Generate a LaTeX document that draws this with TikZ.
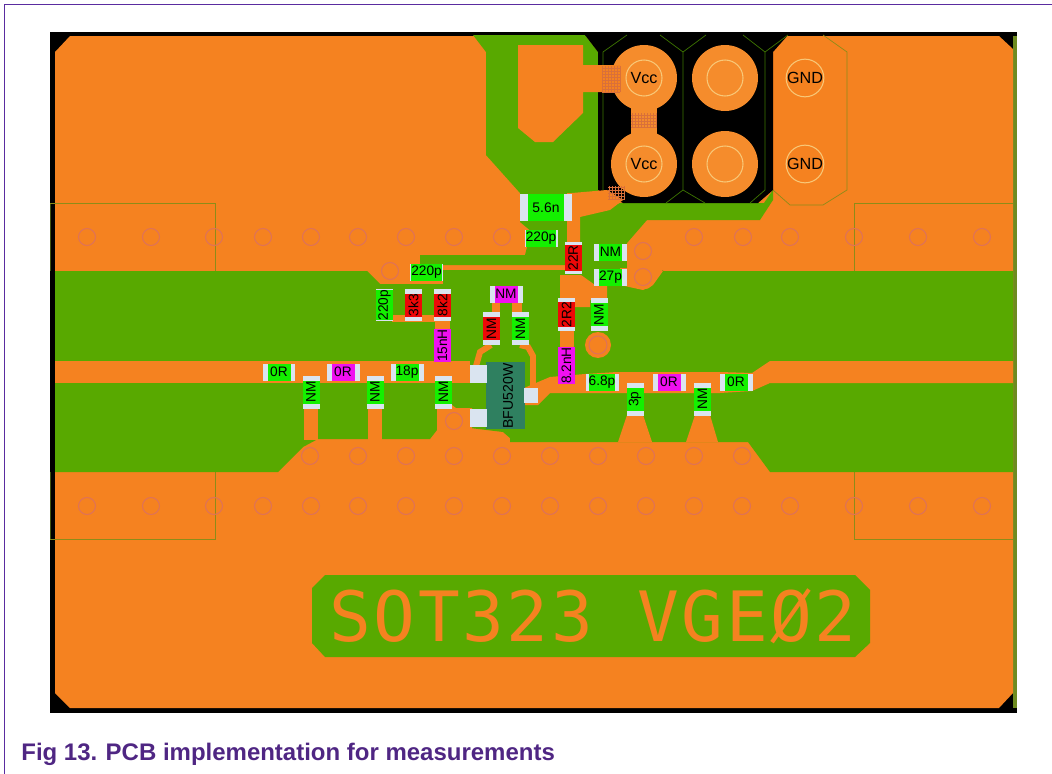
\documentclass[tikz,border=0pt]{standalone}
\usepackage{fontspec}
\setmainfont{Liberation Sans}
\newfontfamily\silkfont[LetterSpace=3.7]{DejaVu Sans Mono}
\definecolor{nxpurple}{HTML}{4F2683}
\definecolor{framepurple}{HTML}{5A2CA0}
\definecolor{pcborange}{HTML}{F58220}
\definecolor{padorange}{HTML}{F58C2C}
\definecolor{hatchorange}{HTML}{D9703A}
\definecolor{pcbgreen}{HTML}{58A900}
\definecolor{olive}{HTML}{8C8C18}
\definecolor{edgeolive}{HTML}{6E8B20}
\definecolor{viaring}{HTML}{DE7258}
\definecolor{padring}{HTML}{F8C878}
\definecolor{capblue}{HTML}{DAE4F0}
\definecolor{partgreen}{HTML}{14F000}
\definecolor{partmag}{HTML}{F010F0}
\definecolor{partred}{HTML}{EE0808}
\definecolor{bfugreen}{HTML}{2F8060}
\tikzset{
  via/.style={circle,draw=viaring,line width=0.6pt,minimum size=0.34cm,inner sep=0pt},
  bigpad/.style={circle,fill=padorange,draw=padring,minimum size=0.72cm,inner sep=0pt,line width=0.6pt,font=\fontsize{9.2}{10}\selectfont},
  padback/.style={circle,fill=padorange,minimum size=1.32cm,inner sep=0pt},
  partcap/.style={fill=capblue,inner sep=0pt,minimum width=0.66cm,minimum height=0.34cm},
  partbody/.style={inner sep=0pt,minimum width=0.46cm,minimum height=0.34cm,font=\fontsize{7.8}{8}\selectfont},
  blupad/.style={fill=capblue,inner sep=0pt,minimum width=0.34cm,minimum height=0.36cm},
}
\begin{document}
\begin{tikzpicture}[x=0.02cm,y=-0.02cm]
\useasboundingbox (0,0) rectangle (1052,774);
% page frame
\draw[framepurple,line width=0.6pt] (4.5,774) -- (4.5,4.5) -- (1052,4.5);
% board
\fill[black] (50,32) rectangle (1017,713);
\fill[edgeolive] (1013,36) rectangle (1017,708);
\fill[pcborange] (70,36) -- (999,36) -- (1013,49) -- (1013,693) -- (999,708) -- (70,708) -- (55,693) -- (55,52) -- cycle;
\draw[edgeolive!60!black,line width=0.5pt] (50,203) -- (50,271) (50,472) -- (50,539);
\draw[olive,line width=0.5pt] (50,203) -- (215,203) -- (215,271);
\draw[olive,line width=0.5pt] (50,539) -- (215,539) -- (215,472);
\draw[olive,line width=0.5pt] (1013,203) -- (854,203) -- (854,271);
\draw[olive,line width=0.5pt] (1013,539) -- (854,539) -- (854,472);
\draw[olive,line width=0.4pt] (823,35) -- (847,52) -- (847,190) -- (823,205) -- (790,205) -- (773,190);
% ground gaps
\fill[pcbgreen] (55,271) -- (367,271) -- (380,284) -- (443,284) -- (443,270) -- (663,270) -- (663,271) -- (1013,271) -- (1013,472) -- (770,472) -- (748,442) -- (510,442) -- (510,438) -- (503,432) -- (470,428) -- (437,430) -- (430,439) -- (318,439) -- (303,447) -- (278,472) -- (55,472) -- cycle;
\fill[pcbgreen] (473,35) -- (585,35) -- (598,52) -- (598,193) -- (580,217) -- (620,203) -- (764,203) -- (773,190) -- (773,200) -- (760,220) -- (647,220) -- (627,243) -- (627,272) -- (580,272) -- (520,222) -- (520,193) -- (486,155) -- (486,52) -- cycle;
\fill[pcbgreen] (520,193) rectangle (598,222);
\fill[pcbgreen] (531,222) rectangle (567,229);
\fill[pcbgreen] (420,255) -- (525,255) -- (527,247) -- (565,247) -- (565,265) -- (420,265) -- cycle;
\fill[pcbgreen] (325,575) -- (855,575) -- (870,590) -- (870,643) -- (855,657) -- (325,657) -- (312,643) -- (312,588) -- cycle;
% supply area
\fill[black] (585,35) -- (788,35) -- (773,52) -- (773,190) -- (758,203) -- (623,203) -- (598,190) -- (598,52) -- cycle;
\draw[pcbgreen!70!black,line width=0.4pt] (627,35) -- (603,52) -- (603,190) -- (612,200);
\draw[pcbgreen!70!black,line width=0.4pt] (660,35) -- (683,52) -- (706,35) (683,52) -- (683,190) -- (666,203) (683,190) -- (705,203);
\draw[pcbgreen!70!black,line width=0.4pt] (743,35) -- (765,52) -- (788,35) (765,52) -- (765,190) -- (750,203);
\node[padback] (vccA) at (644,78) {};
\node[padback] (vccB) at (644,164) {};
\node[padback] (padA) at (725,78) {};
\node[padback] (padB) at (725,164) {};
\fill[padorange] (631,105) rectangle (657,135);
\fill[pcborange] (518,45) -- (583,45) -- (583,65) -- (620,65) -- (620,92) -- (583,92) -- (583,113) -- (553,142) -- (535,142) -- (518,128) -- cycle;
\fill[pcborange] (572,193) -- (607,190) -- (623,200) -- (610,210) -- (580,217) -- (580,242) -- (567,242) -- (567,193) -- cycle;
% hatching on the necks
\foreach \hx in {602,605,...,620} \draw[hatchorange,line width=0.3pt] (\hx,66) -- (\hx,92);
\foreach \hy in {68,71,...,92} \draw[hatchorange,line width=0.3pt] (602,\hy) -- (620,\hy);
\foreach \hx in {632,635,...,656} \draw[hatchorange,line width=0.3pt] (\hx,113) -- (\hx,128);
\foreach \hy in {115,118,...,128} \draw[hatchorange,line width=0.3pt] (631,\hy) -- (657,\hy);
\foreach \hx in {609,612,...,624} \draw[hatchorange,line width=0.3pt] (\hx,186) -- (\hx,200);
\foreach \hy in {187,190,...,200} \draw[hatchorange,line width=0.3pt] (608,\hy) -- (625,\hy);
\node[bigpad] (vccAin) at (644,78) {Vcc};
\node[bigpad] (vccBin) at (644,164) {Vcc};
\node[bigpad] (padAin) at (725,78) {};
\node[bigpad] (padBin) at (725,164) {};
\node[bigpad,fill=none] (gndA) at (805,78) {GND};
\node[bigpad,fill=none] (gndB) at (805,164) {GND};
% tracks
\fill[pcborange] (55,361) rectangle (470,383);
\fill[pcborange] (585,374) -- (617,372) -- (720,372) -- (752,373) -- (770,361) -- (1013,361) -- (1013,383) -- (770,383) -- (752,391) -- (720,393) -- (550,393) -- (538,405) -- (524,405) -- (524,388) -- (550,377) -- cycle;
\fill[pcborange] (304,405) rectangle (318,440);
\fill[pcborange] (368,405) rectangle (382,440);
\fill[pcborange] (618,442) -- (627,415) -- (643,415) -- (652,442) -- cycle;
\fill[pcborange] (686,442) -- (695,415) -- (710,415) -- (718,442) -- cycle;
\fill[pcborange] (437,405) -- (452,405) -- (456,408) -- (472,408) -- (472,430) -- (437,431) -- cycle;
\fill[pcborange] (392,315) rectangle (436,322);
\fill[pcborange] (435,320) rectangle (450,330);
\fill[pcborange] (435,360) rectangle (450,365);
\fill[pcborange] (560,330) rectangle (574,350);
\fill[pcborange] (560,275) -- (581,275) -- (595,285) -- (607,285) -- (607,300) -- (590,300) -- (590,307) -- (575,307) -- (575,300) -- (560,300) -- cycle;
\fill[pcborange] (627,243) -- (663,271) -- (653,285) -- (643,290) -- (620,285) -- (620,268) -- (627,268) -- cycle;
\fill[pcborange] (492,302) rectangle (500,313);
\fill[pcborange] (512,302) rectangle (522,313);
\draw[pcborange,line width=3.4pt] (491,345) -- (480,352) -- (476,366);
\draw[pcborange,line width=3.4pt] (520,345) -- (528,347) -- (533,356) -- (533,390);
\node[circle,fill=pcborange,minimum size=0.52cm,inner sep=0pt] (viaP) at (598,345) {};
\node[via,minimum size=0.36cm] (viaQ) at (598,345) {};
\node[circle,fill=pcborange,minimum size=0.5cm,inner sep=0pt] (viaR) at (454,421) {};
\node[circle,fill=pcborange,minimum size=0.5cm,inner sep=0pt] (viaS) at (643,277) {};
% via rows
\foreach \vx in {87,151,214,263,311,358,406,454,502,694,743,790,854,918,982}
  \node[via] (vt\vx) at (\vx,237) {};
\foreach \vx in {87,151,214,263,311,358,406,454,502,550,598,646,694,742,790,854,918,982}
  \node[via] (vb\vx) at (\vx,506) {};
\foreach \vx in {310,358,406,454,502,550,598,646,694,742}
  \node[via] (vm\vx) at (\vx,456) {};
\node[via] (vA) at (390,271) {};
\node[via] (vB) at (643,251) {};
\node[via] (vC) at (643,277) {};
\node[via] (vD) at (454,421) {};
% transistor
\node[fill=bfugreen,inner sep=0pt,minimum width=0.78cm,minimum height=1.34cm] (bfu) at (505.5,395.5) {};
\node[blupad] (padC) at (478.5,374) {};
\node[blupad] (padD) at (478.5,417.5) {};
\node[blupad,minimum width=0.28cm,minimum height=0.3cm] (padE) at (531,395.5) {};
\node[rotate=90,font=\fontsize{8}{9}\selectfont] (bfutxt) at (508,396) {BFU520W};
% parts, horizontal
\foreach \nm/\cx/\cy/\cc/\txt in {
  pa/279/372/partgreen/0R,pb/343/372/partmag/0R,pc/407/372/partgreen/18p,
  pd/426.5/272/partgreen/220p,pe/506/294/partmag/NM,pf/602/382/partgreen/6.8p,
  pg/669/382/partmag/0R,ph/736/382/partgreen/0R,pi/541/238/partgreen/220p,
  pj/610.5/252/partgreen/NM,pk/610.5/277/partgreen/27p}
{
  \node[partcap] (\nm) at (\cx,\cy) {};
  \node[partbody,fill=\cc] (\nm t) at (\cx,\cy) {\txt};
}
\node[partcap,minimum width=1.04cm,minimum height=0.56cm] (pl) at (546,207.5) {};
\node[partbody,fill=partgreen,minimum width=0.72cm,minimum height=0.56cm,font=\fontsize{7.9}{9}\selectfont] (plt) at (546,207.5) {5.6n};
% parts, vertical
\foreach \nm/\cx/\cy/\cc/\txt in {
  qa/573/258/partred/22R,qb/384.5/305/partgreen/220p,qc/413.5/305/partred/3k3,
  qd/442.5/305/partred/8k2,qe/442.5/345.5/partmag/15nH,qf/311/392/partgreen/NM,
  qg/375/392/partgreen/NM,qh/443.5/392/partgreen/NM,qi/491.5/328.5/partred/NM,
  qj/520.5/328.5/partgreen/NM,qk/566.5/314.5/partred/2R2,ql/599/314.5/partgreen/NM,
  qm/566.5/365.5/partmag/8.2nH,qn/635/399/partgreen/3p,qo/702.5/399/partgreen/NM}
{
  \node[partcap,rotate=90] (\nm) at (\cx,\cy) {};
  \node[partbody,fill=\cc,rotate=90] (\nm t) at (\cx,\cy) {\txt};
}
% silkscreen and caption
\node[text=pcborange,inner sep=0pt,font=\fontsize{39.5}{42}\silkfont] (silk) at (593,616) {SOT323 VGEØ2};
\node[anchor=base west,inner sep=0pt,text=nxpurple,font=\fontsize{13.65}{15}\selectfont\bfseries] (caption) at (21,760) {Fig 13.\hspace{4.8pt}PCB implementation for measurements};
\end{tikzpicture}
\end{document}
